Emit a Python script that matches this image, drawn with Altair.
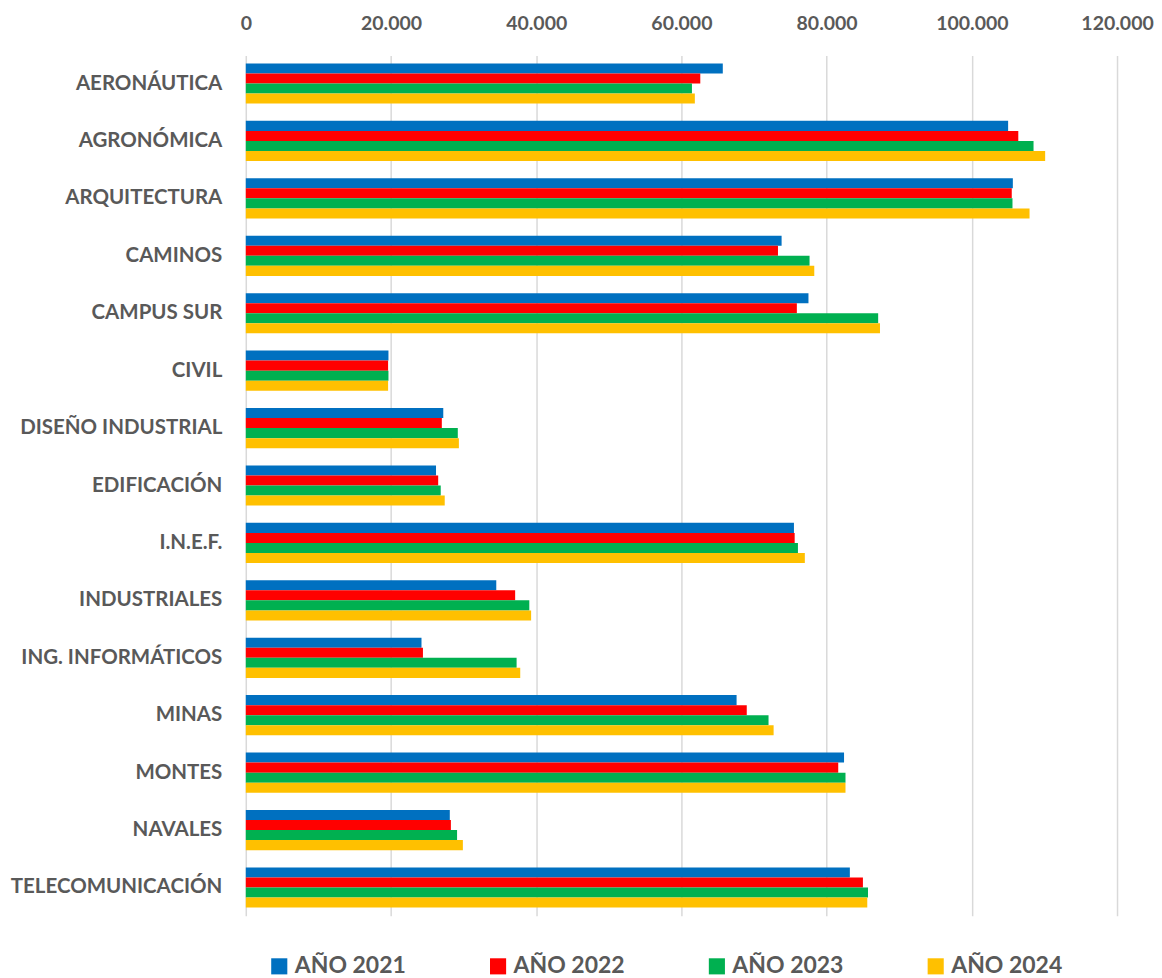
import altair as alt
import pandas as pd

categories = ["AERONÁUTICA", "AGRONÓMICA", "ARQUITECTURA", "CAMINOS", "CAMPUS SUR",
              "CIVIL", "DISEÑO INDUSTRIAL", "EDIFICACIÓN", "I.N.E.F.", "INDUSTRIALES",
              "ING. INFORMÁTICOS", "MINAS", "MONTES", "NAVALES", "TELECOMUNICACIÓN"]
series = ["AÑO 2021", "AÑO 2022", "AÑO 2023", "AÑO 2024"]
colors = ["#0070C0", "#FF0000", "#00B050", "#FFC000"]

y2021 = [65700, 105000, 105650, 73800, 77500, 19650, 27200, 26200, 75500, 34500, 24200, 67600, 82400, 28100, 83200]
y2022 = [62600, 106400, 105500, 73300, 75900, 19600, 27000, 26500, 75600, 37100, 24400, 69000, 81600, 28250, 85000]
y2023 = [61450, 108500, 105600, 77650, 87100, 19650, 29200, 26850, 76050, 39050, 37300, 72000, 82600, 29100, 85700]
y2024 = [61850, 110100, 107950, 78300, 87350, 19600, 29350, 27400, 77000, 39300, 37800, 72700, 82600, 29900, 85600]

rows = []
for name, vals in zip(series, [y2021, y2022, y2023, y2024]):
    for c, v in zip(categories, vals):
        rows.append({"categoria": c, "serie": name, "valor": v})
df = pd.DataFrame(rows)

FONT = "Lato"
GREY = "#595959"

chart = alt.Chart(df).mark_bar().encode(
    x=alt.X("valor:Q",
            scale=alt.Scale(domain=[0, 120000], nice=False),
            axis=alt.Axis(orient="top", title=None, values=[0, 20000, 40000, 60000, 80000, 100000, 120000],
                          labelExpr="replace(format(datum.value, ',.0f'), ',', '.')",
                          labelFlush=False, labelOverlap=False,
                          domain=False, ticks=False, grid=True, gridColor="#D9D9D9", gridWidth=1.5,
                          labelFont=FONT, labelFontSize=19.5, labelFontWeight="bold", labelColor=GREY,
                          labelPadding=22)),
    y=alt.Y("categoria:N", sort=categories,
            scale=alt.Scale(paddingInner=0.3, paddingOuter=0.14),
            axis=alt.Axis(title=None, domain=False, ticks=False, grid=False,
                          labelFont=FONT, labelFontSize=20.5, labelFontWeight="bold", labelColor=GREY,
                          labelPadding=24, labelLimit=400)),
    yOffset=alt.YOffset("serie:N", sort=series, scale=alt.Scale(paddingInner=0)),
    color=alt.Color("serie:N", sort=series,
                    scale=alt.Scale(domain=series, range=colors),
                    legend=alt.Legend(orient="none", legendX=22, legendY=900,
                                      title=None, direction="horizontal",
                                      symbolType="square", symbolSize=260, symbolStrokeWidth=0,
                                      labelFont=FONT, labelFontSize=23, labelFontWeight="bold",
                                      labelColor=GREY, columnPadding=80, labelOffset=4)),
).properties(
    width=872, height=861,
    padding={"left": 2, "right": 0, "top": 5, "bottom": 0}
).configure_view(stroke=None)

chart.save("out.html", embed_options={"renderer": "svg", "actions": False})
